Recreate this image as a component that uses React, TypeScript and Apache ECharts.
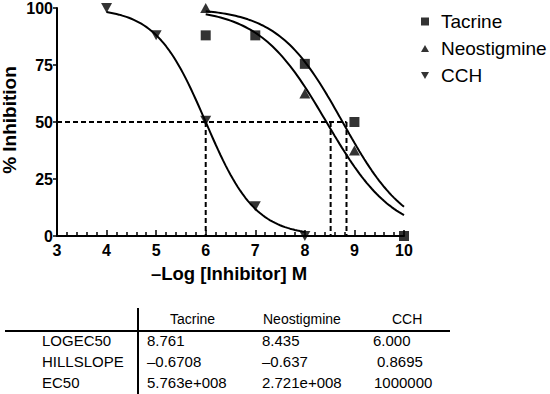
import React, { useEffect, useRef } from "react";
import * as echarts from "echarts";

// ---- data ----
const seriesNames = ["Tacrine", "Neostigmine", "CCH"];
const tacrineX = [6, 7, 8, 9, 10];
const tacrineY = [88, 88, 75.5, 50, 0];
const neoX = [6, 8, 9];
const neoY = [100, 62.5, 37.5];
const cchX = [4, 5, 6, 7, 8];
const cchY = [100, 88, 50.5, 13, 0];

// fitted parameters (from the table)
const logEC50 = [8.761, 8.435, 6.0];
const hillSlope = [-0.6708, -0.637, 0.8695];
const curveRange = [
  [6, 10],
  [6, 10],
  [4, 8],
];

// EC50 guide lines as drawn
const guideY = 50;
const guideX = [6, 8.52, 8.84];

const xTicks = { min: 3, max: 10, interval: 1 };
const yTicks = { min: 0, max: 100, interval: 25 };

// table
const tableHeader = ["Tacrine", "Neostigmine", "CCH"];
const rowLabels = ["LOGEC50", "HILLSLOPE", "EC50"];
const tacrineCol = ["8.761", "\u20130.6708", "5.763e+008"];
const neoCol = ["8.435", "\u20130.637", "2.721e+008"];
const cchCol = ["6.000", "0.8695", "1000000"];

const FONT = '"Liberation Sans", Arial, Helvetica, sans-serif';

function fitCurve(i: number) {
  const [a, b] = curveRange[i];
  const pts: number[][] = [];
  const n = 80;
  for (let k = 0; k <= n; k++) {
    const x = a + ((b - a) * k) / n;
    const y = 100 / (1 + Math.pow(10, (x - logEC50[i]) * Math.abs(hillSlope[i])));
    pts.push([x, y]);
  }
  return pts;
}

const zip = (xs: number[], ys: number[]) => xs.map((x, i) => [x, ys[i]]);

const downTri = "path://M0,0L10,0L5,9Z";
const upTri = "path://M5,0L10,9L0,9Z";

export default function App() {
  const ref = useRef<HTMLDivElement>(null);
  useEffect(() => {
    if (!ref.current) return;
    const chart = echarts.init(ref.current, undefined, { renderer: "svg" });
    const dashed = { color: "#000", width: 2, type: [5, 3] as any };
    const guideSeries: any[] = [
      {
        type: "line",
        data: [
          [xTicks.min, guideY],
          [Math.max(...guideX), guideY],
        ],
        showSymbol: false,
        lineStyle: dashed,
        silent: true,
        z: 1,
      },
      ...guideX.map((gx) => ({
        type: "line",
        data: [
          [gx, guideY],
          [gx, 0],
        ],
        showSymbol: false,
        lineStyle: dashed,
        silent: true,
        z: 1,
      })),
    ];
    const curveSeries: any[] = [0, 1, 2].map((i) => ({
      type: "line",
      data: fitCurve(i),
      showSymbol: false,
      lineStyle: { color: "#000", width: 2 },
      silent: true,
      z: 2,
    }));
    const rowY = [340, 361.5, 382];
    const colX = [
      [147, 147, 147],
      [262, 262, 262],
      [373, 377, 374],
    ];
    const headX = [170, 263, 392];
    const cols = [tacrineCol, neoCol, cchCol];
    const textEl = (text: string, x: number, y: number, size = 15) => ({
      type: "text",
      x,
      y,
      style: { text, font: `${size}px ${FONT}`, fill: "#000", verticalAlign: "middle", align: "left" },
    });
    const graphics: any[] = [
      {
        type: "text",
        x: 229,
        y: 273,
        style: {
          text: "\u2013Log [Inhibitor] M",
          font: `bold 18.5px ${FONT}`,
          fill: "#000",
          align: "center",
          verticalAlign: "middle",
        },
      },
      {
        type: "text",
        x: 9,
        y: 120,
        rotation: Math.PI / 2,
        style: {
          text: "% Inhibition",
          font: `bold 19px ${FONT}`,
          fill: "#000",
          align: "center",
          verticalAlign: "middle",
        },
      },
      { type: "line", shape: { x1: 5, y1: 331, x2: 450, y2: 331 }, style: { stroke: "#000", lineWidth: 2 } },
      { type: "line", shape: { x1: 138, y1: 308, x2: 138, y2: 394 }, style: { stroke: "#000", lineWidth: 2 } },
      ...tableHeader.map((h, i) => textEl(h, headX[i], 319, 14)),
      ...rowLabels.map((r, i) => textEl(r, 42, rowY[i])),
      ...cols.flatMap((col, c) => col.map((v, r) => textEl(v, colX[c][r], rowY[r]))),
    ];

    chart.setOption({
      animation: false,
      backgroundColor: "#fff",
      grid: { left: 57, right: 146, top: 5, bottom: 158, containLabel: false },
      legend: {
        data: [
          { name: seriesNames[0], icon: "rect" },
          { name: seriesNames[1], icon: upTri },
          { name: seriesNames[2], icon: downTri },
        ],
        orient: "vertical",
        left: 421,
        top: 12,
        padding: 0,
        itemWidth: 8,
        itemHeight: 8,
        itemGap: 8,
        selectedMode: false,
        textStyle: { fontSize: 19, fontFamily: FONT, color: "#000", padding: [0, 0, 0, 7] },
      },
      xAxis: {
        type: "value",
        min: xTicks.min,
        max: xTicks.max,
        interval: xTicks.interval,
        axisLine: { show: true, lineStyle: { color: "#000", width: 2 } },
        axisTick: { show: true, inside: true, length: 6, lineStyle: { color: "#000", width: 1.5 } },
        minorTick: { show: true, splitNumber: 5, length: 4, lineStyle: { color: "#000", width: 1.5 } },
        splitLine: { show: false },
        axisLabel: { color: "#000", fontWeight: "bold", fontSize: 16, fontFamily: FONT, margin: 6 },
      },
      yAxis: {
        type: "value",
        min: yTicks.min,
        max: yTicks.max,
        interval: yTicks.interval,
        axisLine: { show: true, lineStyle: { color: "#000", width: 2 } },
        axisTick: { show: true, inside: false, length: 4, lineStyle: { color: "#000", width: 1.5 } },
        splitLine: { show: false },
        axisLabel: { color: "#000", fontWeight: "bold", fontSize: 16, fontFamily: FONT, margin: 4 },
      },
      series: [
        ...guideSeries,
        ...curveSeries,
        {
          name: seriesNames[1],
          type: "scatter",
          data: zip(neoX, neoY),
          symbol: upTri,
          symbolSize: [11, 10],
          itemStyle: { color: "#000" },
          z: 3,
        },
        {
          name: seriesNames[0],
          type: "scatter",
          data: zip(tacrineX, tacrineY),
          symbol: "rect",
          symbolSize: 10,
          itemStyle: { color: "#000" },
          z: 3,
        },
        {
          name: seriesNames[2],
          type: "scatter",
          data: zip(cchX, cchY),
          symbol: downTri,
          symbolSize: [11, 10],
          itemStyle: { color: "#000" },
          z: 3,
        },
      ],
      graphic: graphics,
    });
    return () => chart.dispose();
  }, []);
  return (
    <div
      ref={ref}
      style={{ position: "fixed", left: 0, top: 0, width: 550, height: 394, background: "#fff" }}
    />
  );
}
